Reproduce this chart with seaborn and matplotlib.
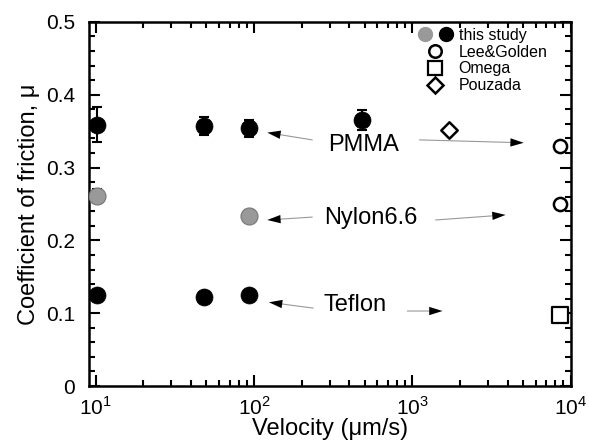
import numpy as np
import pandas as pd
import matplotlib
matplotlib.use("Agg")
import matplotlib.pyplot as plt
import seaborn as sns
from matplotlib.lines import Line2D
from matplotlib.legend_handler import HandlerTuple
from matplotlib.ticker import LogLocator, FixedLocator, NullFormatter, FuncFormatter

sns.set_theme(style="white")
plt.rcParams['font.family'] = ['Liberation Sans', 'DejaVu Sans']
plt.rcParams['mathtext.fontset'] = 'custom'
plt.rcParams['mathtext.rm'] = 'Liberation Sans'

# ---- data ----
v_pmma = [10.2, 48, 93, 483]
mu_pmma = [0.359, 0.357, 0.354, 0.365]
err_pmma = [0.024, 0.012, 0.012, 0.014]

v_nylon = [10.2, 93]
mu_nylon = [0.261, 0.234]
err_nylon = [0.010, 0.008]

v_teflon = [10.2, 48, 93]
mu_teflon = [0.125, 0.122, 0.125]

v_lee = [8500, 8500]
mu_lee = [0.330, 0.250]

v_omega = [8500]
mu_omega = [0.098]

v_pouzada = [1700]
mu_pouzada = [0.352]

y_ticks = [0, 0.1, 0.2, 0.3, 0.4, 0.5]
x_ticks = [10, 100, 1000, 10000]

fig = plt.figure(figsize=(5.89, 4.44), dpi=100)
ax = fig.add_axes([0.151, 0.1306, 0.818, 0.82])

black_df = pd.DataFrame({"v": v_pmma + v_teflon, "mu": mu_pmma + mu_teflon})
gray_df = pd.DataFrame({"v": v_nylon, "mu": mu_nylon})

ax.errorbar(v_pmma, mu_pmma, yerr=err_pmma, fmt='none', ecolor='black',
            elinewidth=1.5, capsize=3.5, capthick=1.5, zorder=2)
ax.errorbar(v_nylon, mu_nylon, yerr=err_nylon, fmt='none', ecolor='black',
            elinewidth=1.5, capsize=3.5, capthick=1.5, zorder=2)

sns.scatterplot(data=black_df, x="v", y="mu", ax=ax, color='black', s=150,
                edgecolor='black', linewidth=0.5, zorder=3, legend=False)
sns.scatterplot(data=gray_df, x="v", y="mu", ax=ax, color='#999999', s=150,
                edgecolor='#777777', linewidth=0.8, zorder=3, legend=False)
sns.scatterplot(x=v_lee, y=mu_lee, ax=ax, marker='o', s=90, facecolor='white',
                edgecolor='black', linewidth=1.8, zorder=3, legend=False)
sns.scatterplot(x=v_omega, y=mu_omega, ax=ax, marker='s', s=130, facecolor='white',
                edgecolor='black', linewidth=1.6, zorder=3, legend=False)
sns.scatterplot(x=v_pouzada, y=mu_pouzada, ax=ax, marker='D', s=70, facecolor='white',
                edgecolor='black', linewidth=1.8, zorder=3, legend=False)

ax.set_xscale('log')
ax.set_xlim(9.05, 1e4)
ax.set_ylim(0, 0.5)

ax.xaxis.set_major_locator(FixedLocator(x_ticks))
ax.xaxis.set_major_formatter(FuncFormatter(lambda v, p: r'$10^{%d}$' % round(np.log10(v))))
ax.xaxis.set_minor_locator(LogLocator(base=10, subs=np.arange(2, 10)))
ax.xaxis.set_minor_formatter(NullFormatter())
ax.yaxis.set_major_locator(FixedLocator(y_ticks))
ax.yaxis.set_minor_locator(FixedLocator(np.arange(0, 0.501, 0.02)))
ax.yaxis.set_major_formatter(FuncFormatter(lambda v, p: '0' if abs(v) < 1e-9 else '%.1f' % v))

ax.tick_params(which='both', direction='in', top=True, right=True, bottom=True, left=True,
               color='black', width=1.5)
ax.tick_params(which='major', length=8, labelsize=15, labelcolor='black')
ax.tick_params(axis='x', which='major', pad=7)
ax.tick_params(axis='y', which='major', pad=10)
ax.tick_params(which='minor', length=4.5)
for s in ax.spines.values():
    s.set_color('black')
    s.set_linewidth(1.8)

ax.set_xlabel('Velocity (\u03bcm/s)', fontsize=17, labelpad=0, color='black')
ax.set_ylabel('Coefficient of friction, \u03bc', fontsize=17, labelpad=4, color='black')

# ---- annotations ----
def arrow(tail, head):
    ax.annotate('', xy=head, xytext=tail,
                arrowprops=dict(arrowstyle='-', color='#999999', lw=0.8,
                                shrinkA=0, shrinkB=6))
    ax.annotate('', xy=head, xytext=tail,
                arrowprops=dict(arrowstyle='-|>,head_length=0.8,head_width=0.25',
                                color='black', lw=0.01, shrinkA=0, shrinkB=0,
                                linestyle='none'))

labels = [("PMMA", 490, 0.331), ("Nylon6.6", 542, 0.231), ("Teflon", 435, 0.111)]
for t, x, y in labels:
    ax.text(x, y, t, fontsize=17, ha='center', va='center', color='black')

arrow((233, 0.338), (121, 0.348))
arrow((1107, 0.338), (5050, 0.334))
arrow((233, 0.232), (121, 0.228))
arrow((1400, 0.228), (3880, 0.235))
arrow((236, 0.107), (124, 0.115))
arrow((929, 0.103), (1550, 0.103))

# ---- legend ----
h_gray = Line2D([], [], marker='o', ls='none', color='#999999', markeredgecolor='#999999', markersize=10)
h_black = Line2D([], [], marker='o', ls='none', color='black', markersize=10)
h_lee = Line2D([], [], marker='o', ls='none', markerfacecolor='white', markeredgecolor='black',
               markeredgewidth=1.8, markersize=9)
h_om = Line2D([], [], marker='s', ls='none', markerfacecolor='white', markeredgecolor='black',
              markeredgewidth=1.6, markersize=10)
h_po = Line2D([], [], marker='D', ls='none', markerfacecolor='white', markeredgecolor='black',
              markeredgewidth=1.8, markersize=8)
leg = ax.legend([(h_gray, h_black), h_lee, h_om, h_po],
                ['this study', 'Lee&Golden', 'Omega', 'Pouzada'],
                handler_map={tuple: HandlerTuple(ndivide=None, pad=0.3)},
                loc='upper right', bbox_to_anchor=(0.975, 1.015), frameon=False,
                fontsize=11.5, handlelength=2.4, handletextpad=0.25,
                labelspacing=0.12, borderpad=0.2)
for txt in leg.get_texts():
    txt.set_color('black')

fig.savefig('out.png', dpi=100)
